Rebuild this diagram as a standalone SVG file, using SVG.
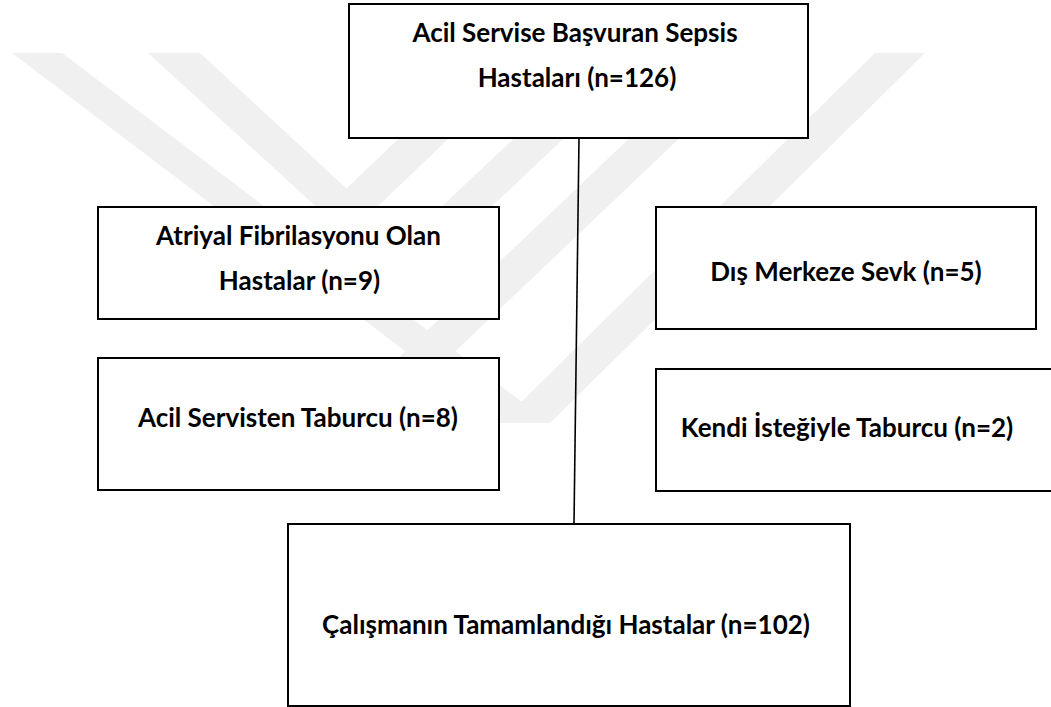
<svg xmlns="http://www.w3.org/2000/svg" width="1051" height="707" viewBox="0 0 1051 707">
<style>
.wm{fill:#f0f0f0}
.box{fill:#ffffff;stroke:#000000;stroke-width:2}
.t{font-family:Lato,"Liberation Sans",sans-serif;font-weight:bold;font-size:26px;fill:#000000;text-anchor:middle}
.conn{stroke:#000000;stroke-width:1.6;fill:none}
</style>
<rect x="0" y="0" width="1051" height="707" fill="#ffffff"/>
<g id="watermark">
<polygon class="wm" points="12,53 62,53 550,423 500,423"/>
<polygon class="wm" points="875,53 925,53 550,423 500,423"/>
<polygon class="wm" points="148,53 200,53 372,212 322,212"/>
<polygon class="wm" points="488,53 538,53 372,212 322,212"/>
<polygon class="wm" points="604,53 654,53 391,302 341,302"/>
<polygon class="wm" points="719,53 769,53 380,423 330,423"/>
</g>
<g id="connectors">
<line class="conn" x1="579" y1="138" x2="574" y2="524"/>
</g>
<g id="n-top">
<rect class="box" x="349" y="4" width="459" height="134"/>
<text class="t" x="575" y="42">Acil Servise Başvuran Sepsis</text>
<text class="t" x="577" y="87">Hastaları (n=126)</text>
</g>
<g id="n-af">
<rect class="box" x="98" y="207" width="401" height="112"/>
<text class="t" x="298.5" y="245">Atriyal Fibrilasyonu Olan</text>
<text class="t" x="299.5" y="290">Hastalar (n=9)</text>
</g>
<g id="n-dis">
<rect class="box" x="656" y="207" width="380" height="122"/>
<text class="t" x="846" y="281">Dış Merkeze Sevk (n=5)</text>
</g>
<g id="n-acil">
<rect class="box" x="98" y="358" width="401" height="132"/>
<text class="t" x="298" y="427">Acil Servisten Taburcu (n=8)</text>
</g>
<g id="n-kendi">
<rect class="box" x="656" y="369" width="420" height="122"/>
<text class="t" x="847" y="437">Kendi İsteğiyle Taburcu (n=2)</text>
</g>
<g id="n-final">
<rect class="box" x="288" y="524" width="562" height="182"/>
<text class="t" x="566" y="634">Çalışmanın Tamamlandığı Hastalar (n=102)</text>
</g>
</svg>
